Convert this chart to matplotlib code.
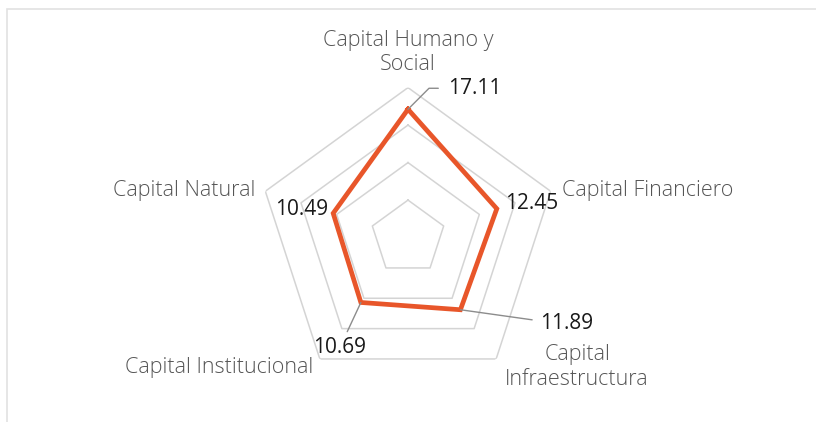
import numpy as np
import matplotlib.pyplot as plt
from matplotlib.patches import Rectangle

# data
categorias = ['Capital Humano y\nSocial', 'Capital Financiero', 'Capital\nInfraestructura',
              'Capital Institucional', 'Capital Natural']
valores = [17.11, 12.45, 11.89, 10.69, 10.49]
niveles = [5, 10, 15, 20]

naranja = '#E8562A'
gris_grid = '#d4d4d4'
gris_txt = '#555555'

plt.rcParams['font.family'] = ['Open Sans', 'DejaVu Sans']

fig = plt.figure(figsize=(8.16, 4.22), dpi=100)
fig.patches.append(Rectangle((7 / 816, -0.1), 1.2, (422 - 9) / 422 + 0.1, transform=fig.transFigure,
                             fill=False, edgecolor='#e2e2e2', linewidth=1.2))

cx, cy, R = 408, 422 - 237.6, 150
ax = fig.add_axes([(cx - R) / 816, (cy - R) / 422, 2 * R / 816, 2 * R / 422], projection='polar')
ax.set_theta_offset(np.pi / 2)
ax.set_theta_direction(-1)
ax.set_ylim(0, 20)
ax.axis('off')

n = len(categorias)
ang = np.arange(n) * 2 * np.pi / n
ang_c = np.append(ang, ang[0])

for lv in niveles:
    ax.plot(ang_c, [lv] * (n + 1), color=gris_grid, lw=1.1, zorder=1)

vals_c = valores + valores[:1]
ax.plot(ang_c, vals_c, color=naranja, lw=3.4, zorder=3, solid_joinstyle='miter')

# category labels
cat_pos = [((0, 35), 'center', 'center'),
           ((11, 1), 'left', 'center'),
           ((81, -8), 'center', 'center'),
           ((-7, -9), 'right', 'center'),
           ((-10, 1), 'right', 'center')]
for a, lab, (off, ha, va) in zip(ang, categorias, cat_pos):
    ax.annotate(lab, xy=(a, 20), xytext=off, textcoords='offset pixels', ha=ha, va=va,
                fontsize=15.5, color=gris_txt, fontweight='light', multialignment='center',
                linespacing=1.2, annotation_clip=False)

# value labels
val_pos = [((40, 21), 'left', dict(arrowstyle='-', color='#8c8c8c', lw=1,
                                    connectionstyle='angle,angleA=0,angleB=45,rad=0',
                                    shrinkA=5, shrinkB=0)),
           ((8, 5), 'left', None),
           ((80, -14), 'left', dict(arrowstyle='-', color='#8c8c8c', lw=1,
                                     connectionstyle='angle,angleA=0,angleB=-8,rad=0',
                                     shrinkA=4, shrinkB=0)),
           ((-21, -45), 'center', dict(arrowstyle='-', color='#8c8c8c', lw=1,
                                       shrinkA=2, shrinkB=0)),
           ((-5, 4), 'right', None)]
for a, v, (off, ha, ap) in zip(ang, valores, val_pos):
    ax.annotate(f'{v:.2f}', xy=(a, v), xytext=off, textcoords='offset pixels', ha=ha, va='center',
                fontsize=15, color='#1a1a1a', fontweight='medium', arrowprops=ap,
                annotation_clip=False, zorder=4)

fig.savefig('out.png', dpi=100, facecolor='white')
